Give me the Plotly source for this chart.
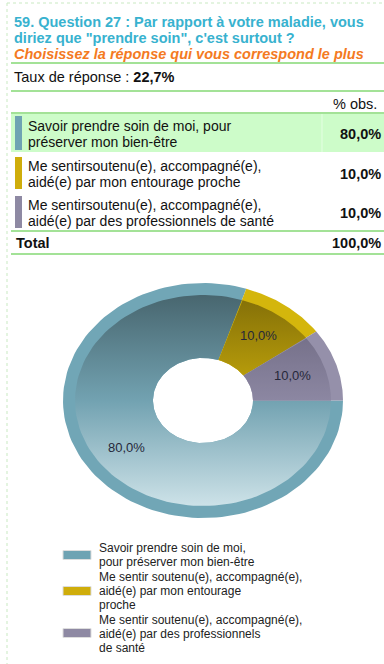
import numpy as np
import plotly.graph_objects as go

# ---- data ----
categories = [
    "Savoir prendre soin de moi, pour\npréserver mon bien-être",
    "Me sentirsoutenu(e), accompagné(e),\naidé(e) par mon entourage proche",
    "Me sentirsoutenu(e), accompagné(e),\naidé(e) par des professionnels de santé",
]
legend_labels = [
    "Savoir prendre soin de moi,\npour préserver mon bien-être",
    "Me sentir soutenu(e), accompagné(e),\naidé(e) par mon entourage\nproche",
    "Me sentir soutenu(e), accompagné(e),\naidé(e) par des professionnels\nde santé",
]
values = [80.0, 10.0, 10.0]
response_rate = "22,7%"
total_label = "100,0%"

# ---- styling ----
W, H = 384, 664
FONT = "Liberation Sans, Arial, sans-serif"
GREEN_LINE = "#a3e297"
ROW_BG = "#cdfcc9"
rim_colors = ["#71a6b6", "#d4b60c", "#9590aa"]
bar_colors = ["#6fa3b3", "#cfad0b", "#8e89a3"]
gradients = [
    [[0, "#48666f"], [0.5, "#72a2b1"], [1, "#cde2e8"]],
    [[0, "#826e08"], [0.5, "#c6a90b"], [1, "#e2c83a"]],
    [[0, "#67627a"], [0.5, "#8c87a2"], [1, "#aaa6bd"]],
]

fig = go.Figure()

# ---- elliptical donut built from the values ----
cx, cy = 203, 400.5
A_OUT, B_OUT = 140, 117.5      # outer rim
A_IN, B_IN = 128, 105.5        # inner edge of the rim
A_HOLE, B_HOLE = 50, 42.5      # hole
A_LAB, B_LAB = 94, 80          # label radius


def wedge(t0, t1, a1, b1, a0, b0, n=120):
    t = np.radians(np.linspace(t0, t1, n))
    xs = np.concatenate([cx + a1 * np.cos(t), cx + a0 * np.cos(t[::-1])])
    ys = np.concatenate([cy - b1 * np.sin(t), cy - b0 * np.sin(t[::-1])])
    return np.append(xs, xs[0]), np.append(ys, ys[0])


total = sum(values)
angle = 360.0  # start at 3 o'clock, go clockwise
for i, v in enumerate(values):
    span = 360.0 * v / total
    t_start, t_end = angle, angle - span
    # flat rim
    x, y = wedge(t_start, t_end, A_OUT, B_OUT, A_HOLE, B_HOLE)
    fig.add_trace(go.Scatter(x=x, y=y, mode="lines", fill="toself",
                             fillcolor=rim_colors[i], line=dict(width=0),
                             hoverinfo="skip", showlegend=False))
    # shaded interior
    x, y = wedge(t_start, t_end, A_IN, B_IN, A_HOLE, B_HOLE)
    fig.add_trace(go.Scatter(x=x, y=y, mode="lines", fill="toself",
                             fillgradient=dict(type="vertical", colorscale=gradients[i],
                                               start=cy - B_IN, stop=cy + B_IN),
                             line=dict(width=0), hoverinfo="skip", showlegend=False))
    tm = np.radians((t_start + t_end) / 2)
    fig.add_annotation(x=cx + A_LAB * np.cos(tm), y=cy - B_LAB * np.sin(tm),
                       text=f"{v:.1f}%".replace(".", ","), showarrow=False,
                       font=dict(family=FONT, size=13, color="#26283a"),
                       xanchor="center", yanchor="middle")
    angle = t_end

shapes = []
annots = []


def text(x, y, s, size=13, color="#111111", anchor="left", bold=False, italic=False):
    if bold:
        s = f"<b>{s}</b>"
    if italic:
        s = f"<i>{s}</i>"
    annots.append(dict(x=x, y=y, text=s, showarrow=False, xanchor=anchor, yanchor="middle",
                       font=dict(family=FONT, size=size, color=color)))


def hline(y, x0=11, x1=W, color=GREEN_LINE, width=2, dash=None):
    shapes.append(dict(type="line", x0=x0, x1=x1, y0=y, y1=y,
                       line=dict(color=color, width=width, dash=dash), layer="below"))


# outer dashed frame
shapes.append(dict(type="line", x0=7, x1=7, y0=3, y1=H,
                   line=dict(color="#c9e9c2", width=1, dash="dot")))
hline(3, x0=7, color="#c9e9c2", width=1, dash="dot")

# title
text(12, 22, "59. Question 27 : Par rapport à votre maladie, vous", 14.5, "#38b2cf", bold=True)
text(12, 38, 'diriez que "prendre soin", c\'est surtout ?', 14.5, "#38b2cf", bold=True)
text(12, 54, "Choisissez la réponse qui vous correspond le plus", 14.5, "#f47a22",
     bold=True, italic=True)
hline(63)
text(12, 77, f"Taux de réponse : <b>{response_rate}</b>", 14.5)
hline(91)
text(379, 104, "% obs.", 14.5, anchor="right")

# table rows
row_tops = [113, 154, 193]
row_h = [39, 37, 37]
for i, (cat, v) in enumerate(zip(categories, values)):
    top = row_tops[i]
    if i == 0:
        shapes.append(dict(type="rect", x0=11, x1=W, y0=top, y1=top + row_h[i],
                           fillcolor=ROW_BG, line=dict(width=0), layer="below"))
        shapes.append(dict(type="line", x0=322, x1=322, y0=top, y1=top + row_h[i],
                           line=dict(color="#e4fee2", width=1), layer="below"))
    shapes.append(dict(type="rect", x0=15, x1=22, y0=top + 3, y1=top + row_h[i] - 2,
                       fillcolor=bar_colors[i], line=dict(width=0)))
    mid = top + row_h[i] / 2 + 1
    for k, line in enumerate(cat.split("\n")):
        text(26, mid - 8 + 16 * k, line, 14)
    text(383, mid, f"{v:.1f}%".replace(".", ","), 14.5, bold=True, anchor="right")
hline(113)
hline(231)
text(14, 243, "Total", 14.5, bold=True)
text(383, 243, total_label, 14.5, bold=True, anchor="right")
hline(254)

# legend
sw_centers = [555, 591, 633]
txt_tops = [548, 577, 620]
for i, lab in enumerate(legend_labels):
    shapes.append(dict(type="rect", x0=63, x1=91, y0=sw_centers[i] - 4.5, y1=sw_centers[i] + 4.5,
                       fillcolor=bar_colors[i], line=dict(color="#dddddd", width=1)))
    for k, line in enumerate(lab.split("\n")):
        text(97, txt_tops[i] + 14 * k, line, 12, "#222222")

fig.update_layout(
    width=W, height=H, margin=dict(l=0, r=0, t=0, b=0),
    paper_bgcolor="white", plot_bgcolor="white",
    xaxis=dict(range=[0, W], visible=False, fixedrange=True),
    yaxis=dict(range=[H, 0], visible=False, fixedrange=True),
    shapes=shapes, annotations=list(fig.layout.annotations) + annots,
    showlegend=False,
)

fig.write_html("out.html", config={"displayModeBar": False})
